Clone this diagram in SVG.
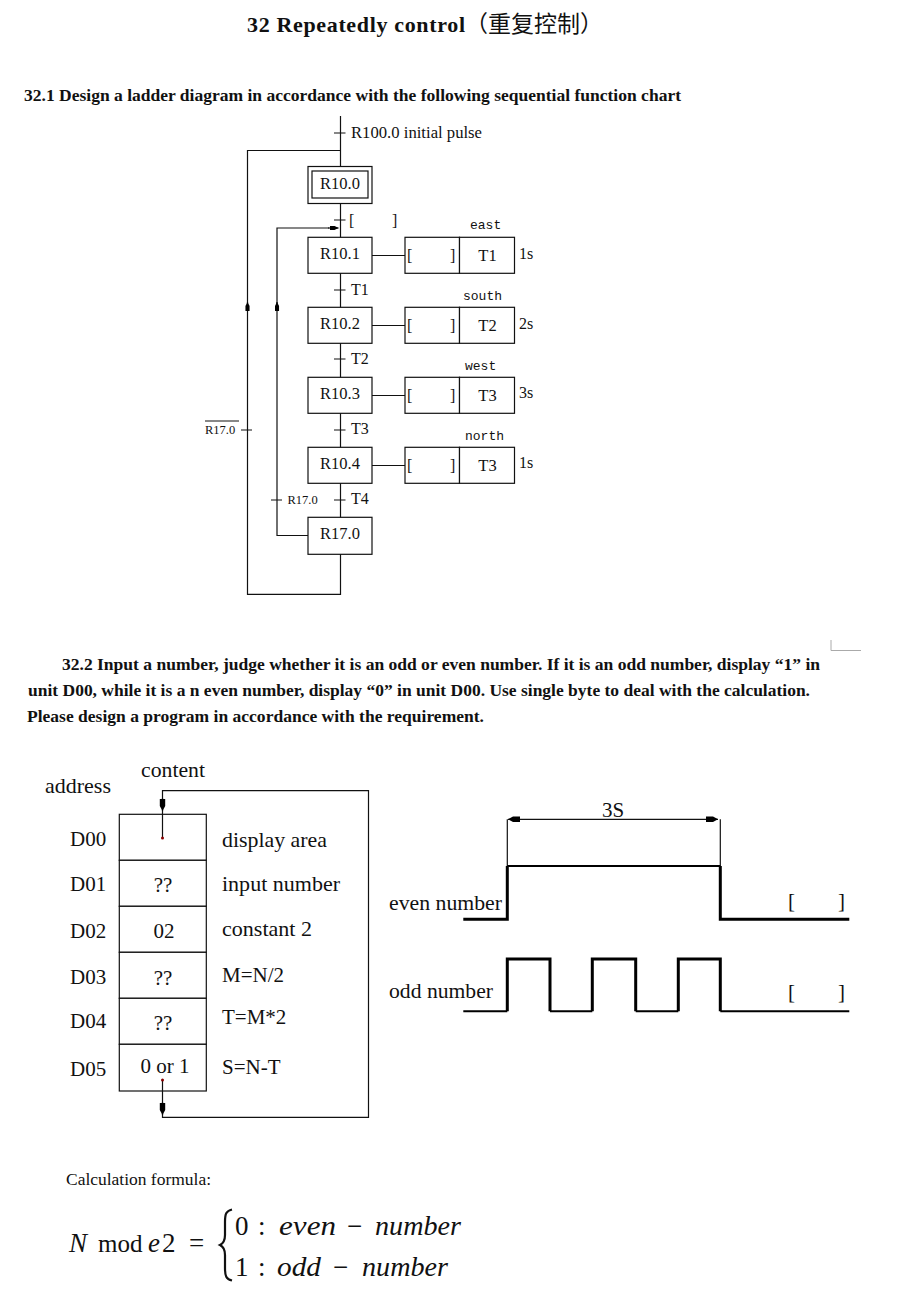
<svg xmlns="http://www.w3.org/2000/svg" width="911" height="1316" viewBox="0 0 911 1316">
<defs>
<marker id="ah" markerUnits="userSpaceOnUse" markerWidth="13" markerHeight="7" refX="12" refY="3" orient="auto"><path d="M0 0.3L7 0.3L12 3L7 5.700L0 5.700Z" fill="#000"/></marker>
<marker id="as" markerUnits="userSpaceOnUse" markerWidth="10" markerHeight="5" refX="9" refY="2.25" orient="auto"><path d="M0 0.2L5 0.2L9 2.25L5 4.300L0 4.300Z" fill="#000"/></marker>
</defs>
<style>
text{font-family:"Liberation Serif","Times New Roman",serif;fill:#111}
.t{font-size:16px}
.h{font-size:16.5px;font-weight:bold}
.b{font-size:21px}
.m{font-family:"Liberation Mono",monospace;font-size:13px}
.s{font-size:16.5px;text-anchor:middle}
.lb{font-size:16px}
.fi{font-style:italic;font-size:27px}
.f{font-size:27px}
rect{fill:#fff;stroke:#111;stroke-width:1.2}
.l{fill:none;stroke:#111;stroke-width:1.2}
.w{fill:none;stroke:#000;stroke-width:3}
.w2{fill:none;stroke:#000;stroke-width:2}
</style>
<rect width="911" height="1316" style="fill:#fff;stroke:none"/>
<text x="247" y="32" style="font-size:22px;font-weight:bold" textLength="218" lengthAdjust="spacing">32 Repeatedly control</text>
<text x="465" y="32" style="font-size:23px;font-family:'Noto Sans CJK SC',sans-serif">（重复控制）</text>
<text x="24" y="101" class="h" textLength="657" lengthAdjust="spacingAndGlyphs">32.1 Design a ladder diagram in accordance with the following sequential function chart</text>
<g id="n-r100"><text x="351" y="138" class="t" textLength="131" lengthAdjust="spacingAndGlyphs">R100.0 initial pulse</text></g>
<g id="n-r100-box"><rect x="308" y="166.5" width="64" height="37"/><rect x="312" y="171" width="56" height="27"/><text x="340" y="189" class="s">R10.0</text></g>
<g id="t0"><text x="349" y="226" class="lb">[</text><text x="392" y="226" class="lb">]</text></g>
<g id="n-r101"><rect x="308" y="237.3" width="64" height="36"/><text x="340" y="259" class="s">R10.1</text></g>
<g id="a1"><rect x="405" y="237.3" width="54.500" height="36"/><rect x="459.5" y="237.3" width="55" height="36"/><text x="407" y="261" class="lb">[</text><text x="450" y="261" class="lb">]</text><text x="487.500" y="261" class="s">T1</text><text x="470" y="229" class="m">east</text><text x="519" y="259" class="t">1s</text></g>
<g id="t1"><text x="351" y="295" class="t">T1</text></g>
<g id="n-r102"><rect x="308" y="307.3" width="64" height="36"/><text x="340" y="329" class="s">R10.2</text></g>
<g id="a2"><rect x="405" y="307.3" width="54.500" height="36"/><rect x="459.5" y="307.3" width="55" height="36"/><text x="407" y="331" class="lb">[</text><text x="450" y="331" class="lb">]</text><text x="487.500" y="331" class="s">T2</text><text x="463" y="300" class="m">south</text><text x="519" y="329" class="t">2s</text></g>
<g id="t2"><text x="351" y="364" class="t">T2</text></g>
<g id="n-r103"><rect x="308" y="377.3" width="64" height="36"/><text x="340" y="399" class="s">R10.3</text></g>
<g id="a3"><rect x="405" y="377.3" width="54.500" height="36"/><rect x="459.5" y="377.3" width="55" height="36"/><text x="407" y="401" class="lb">[</text><text x="450" y="401" class="lb">]</text><text x="487.500" y="401" class="s">T3</text><text x="465" y="370" class="m">west</text><text x="519" y="398" class="t">3s</text></g>
<g id="t3"><text x="351" y="434" class="t">T3</text></g>
<g id="n-r104"><rect x="308" y="447.3" width="64" height="36"/><text x="340" y="469" class="s">R10.4</text></g>
<g id="a4"><rect x="405" y="447.3" width="54.500" height="36"/><rect x="459.5" y="447.3" width="55" height="36"/><text x="407" y="471" class="lb">[</text><text x="450" y="471" class="lb">]</text><text x="487.500" y="471" class="s">T3</text><text x="465" y="440" class="m">north</text><text x="519" y="468" class="t">1s</text></g>
<g id="t4"><text x="351" y="504" class="t">T4</text><text x="287.500" y="504" style="font-size:12.5px">R17.0</text></g>
<g id="n-r170"><rect x="308" y="517.3" width="64" height="37"/><text x="340" y="539" class="s">R17.0</text></g>
<text x="205" y="434" style="font-size:12.5px">R17.0</text>
<path d="M831 640V650.500H861" fill="none" stroke="#aaa" stroke-width="1"/>
<text x="62" y="670" class="h" textLength="758" lengthAdjust="spacingAndGlyphs">32.2 Input a number, judge whether it is an odd or even number. If it is an odd number, display “1” in</text>
<text x="28" y="696" class="h" textLength="782" lengthAdjust="spacingAndGlyphs">unit D00, while it is a n even number, display “0” in unit D00. Use single byte to deal with the calculation.</text>
<text x="27" y="722" class="h" textLength="457" lengthAdjust="spacingAndGlyphs">Please design a program in accordance with the requirement.</text>
<g id="table">
<rect x="119.300" y="814.300" width="87" height="46"/><rect x="119.300" y="860.300" width="87" height="46"/><rect x="119.300" y="906.300" width="87" height="46"/><rect x="119.300" y="952.300" width="87" height="46"/><rect x="119.300" y="998.300" width="87" height="46"/><rect x="119.300" y="1044.300" width="87" height="46.700"/>
<text x="45" y="793" class="b" textLength="66" lengthAdjust="spacingAndGlyphs">address</text><text x="141" y="777" class="b" textLength="64" lengthAdjust="spacingAndGlyphs">content</text>
<text x="70" y="846" class="b">D00</text><text x="70" y="891" class="b">D01</text><text x="70" y="938" class="b">D02</text><text x="70" y="984" class="b">D03</text><text x="70" y="1028" class="b">D04</text><text x="70" y="1076" class="b">D05</text>
<text x="163" y="892" class="b" text-anchor="middle">??</text><text x="164" y="938" class="b" text-anchor="middle">02</text><text x="163" y="985" class="b" text-anchor="middle">??</text><text x="163" y="1030" class="b" text-anchor="middle">??</text><text x="165" y="1073" class="b" text-anchor="middle">0 or 1</text>
<text x="222" y="847" class="b" textLength="105" lengthAdjust="spacingAndGlyphs">display area</text><text x="222" y="891" class="b" textLength="118" lengthAdjust="spacingAndGlyphs">input number</text><text x="222" y="936" class="b" textLength="90" lengthAdjust="spacingAndGlyphs">constant 2</text><text x="222" y="982" class="b">M=N/2</text><text x="222" y="1024" class="b">T=M*2</text><text x="222" y="1074" class="b">S=N-T</text>
</g>
<g id="timing">
<path class="l" d="M507.300 866V819.300M720.300 866V819.300"/>
<path class="l" d="M600 819.300H508" marker-end="url(#ah)"/>
<path class="l" d="M600 819.300H718" marker-end="url(#ah)"/>
<text x="613" y="817" class="b" text-anchor="middle">3S</text>
<path class="w" d="M463.300 919.300H507.300V866M720.300 866V919.300H849.300"/>
<path class="w2" d="M507.300 866H720.300"/>
<path class="w" d="M507.300 1011.300V959H550V1011.300M592.300 1011.300V959H635.700V1011.300M678.300 1011.300V959H720.300V1011.300"/>
<path class="w2" d="M463.300 1011.300H507.300M550 1011.300H592.300M635.700 1011.300H678.300M720.300 1011.300H849.300"/>
<text x="389" y="910" class="b" textLength="113" lengthAdjust="spacingAndGlyphs">even number</text><text x="389" y="998" class="b" textLength="104" lengthAdjust="spacingAndGlyphs">odd number</text>
<text x="788" y="908" class="b">[</text><text x="838" y="908" class="b">]</text><text x="788" y="999" class="b">[</text><text x="838" y="999" class="b">]</text>
</g>
<text x="66" y="1185" class="t" textLength="145" lengthAdjust="spacingAndGlyphs">Calculation formula:</text>
<g id="formula">
<text x="69" y="1252" class="fi">N</text>
<text x="98" y="1252" style="font-size:25px">mod</text>
<text x="148" y="1252" class="fi">e</text>
<text x="162" y="1252" class="f">2</text>
<text x="189" y="1252" class="f">=</text>
<path d="M232 1209.500C226 1211 225 1214 225 1222V1235C225 1241 223 1243.500 220 1245C223 1246.500 225 1249 225 1255V1268C225 1276 226 1279 232 1280.500" fill="none" stroke="#111" stroke-width="2.2"/>
<text x="235" y="1235" class="f">0</text><text x="258" y="1235" class="f">:</text>
<text x="279" y="1235" class="fi" textLength="57" lengthAdjust="spacingAndGlyphs">even</text><text x="347" y="1235" class="f">−</text>
<text x="375" y="1235" class="fi" textLength="86" lengthAdjust="spacingAndGlyphs">number</text>
<text x="235" y="1276" class="f">1</text><text x="258" y="1276" class="f">:</text>
<text x="277" y="1276" class="fi" textLength="44" lengthAdjust="spacingAndGlyphs">odd</text><text x="333" y="1276" class="f">−</text>
<text x="362" y="1276" class="fi" textLength="86" lengthAdjust="spacingAndGlyphs">number</text>
</g>
<g id="connectors">
<path class="l" d="M340.5 116V166.5M340.5 203.500V237.3M340.5 273.3V307.3M340.5 343.3V377.3M340.5 413.3V447.3M340.5 483.3V517.3M340.5 554.3V594.3H247.5V150.5H340.5"/>
<path class="l" d="M308 535.5H277V228H329"/>
<path class="l" d="M328 228H338.500" marker-end="url(#as)"/>
<path class="l" d="M247.500 311V302" marker-end="url(#as)"/>
<path class="l" d="M277 311V302" marker-end="url(#as)"/>
<path class="l" d="M334 133H345.5M334 220H345.5M334 290H345.5M334 359H345.5M334 430H345.5M334 500H345.5M241 430H252M271 500H282M205 421H239"/>
<path class="l" d="M372 255.5H405M372 325.5H405M372 395.5H405M372 465.5H405"/>
<path class="l" d="M162.5 838V790.7H368.5V1117.3H162.5V1080"/>
<path class="l" d="M162.500 798V811" marker-end="url(#ah)"/>
<path class="l" d="M162.500 1102V1115" marker-end="url(#ah)"/>
<circle cx="162.5" cy="838" r="1.5" fill="#800"/>
<circle cx="162.5" cy="1080" r="1.5" fill="#800"/>
</g>
</svg>
